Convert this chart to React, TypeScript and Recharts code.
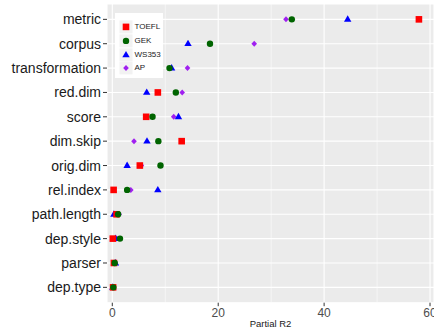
import React from 'react';
import { ScatterChart, Scatter, XAxis, YAxis, CartesianGrid, ReferenceLine, Legend } from 'recharts';

const categories = ['metric', 'corpus', 'transformation', 'red.dim', 'score', 'dim.skip', 'orig.dim', 'rel.index', 'path.length', 'dep.style', 'parser', 'dep.type'];

const toefl = [57.9, 5.0, 4.0, 8.6, 6.4, 13.1, 5.2, 0.25, 0.8, 0.1, 0.3, 0.15];
const gek = [33.9, 18.45, 10.8, 12.0, 7.6, 8.7, 9.1, 2.8, 1.1, 1.45, 0.45, 0.2];
const ws353 = [44.45, 14.3, 11.2, 6.5, 12.5, 6.55, 2.8, 8.6, 0.3, 0.6, 0.6, 0.1];
const ap = [32.8, 26.8, 14.2, 13.2, 11.6, 4.1, 5.5, 3.5, 1.3, 0.8, 0.4, 0.05];

const xTicks = [0, 20, 40, 60];
const xMinor = [10, 30, 50];
const legendNames = ['TOEFL', 'GEK', 'WS353', 'AP'];

const COLORS: Record<string, string> = {
  TOEFL: '#ff0000',
  GEK: '#006400',
  WS353: '#0000ff',
  AP: '#a020f0',
};

const toPoints = (vals: number[]) => categories.map((c, i) => ({ name: c, x: vals[i], y: i }));

const Marker = ({ kind, cx, cy }: { kind: string; cx: number; cy: number }) => {
  const color = COLORS[kind];
  if (kind === 'TOEFL') return <rect x={cx - 3.3} y={cy - 3.3} width={6.6} height={6.6} fill={color} />;
  if (kind === 'GEK') return <circle cx={cx} cy={cy} r={3.2} fill={color} />;
  if (kind === 'WS353')
    return <polygon points={`${cx},${cy - 4} ${cx + 3.7},${cy + 2.4} ${cx - 3.7},${cy + 2.4}`} fill={color} />;
  return <polygon points={`${cx},${cy - 3} ${cx + 2.8},${cy} ${cx},${cy + 3} ${cx - 2.8},${cy}`} fill={color} />;
};

const shapeFor = (kind: string) => (props: any) => <Marker kind={kind} cx={props.cx} cy={props.cy} />;

const LegendBox = () => (
  <div style={{ background: '#fff', width: 48, height: 65, paddingTop: 7, boxSizing: 'border-box' }}>
    {legendNames.map((n) => (
      <div key={n} style={{ display: 'flex', alignItems: 'center', height: 13.8 }}>
        <svg width={14} height={13.8} style={{ marginLeft: 4, display: 'block' }}>
          <rect x={0.5} y={0.4} width={13} height={13} fill="#f2f2f2" />
          <Marker kind={n} cx={7} cy={6.9} />
        </svg>
        <span style={{ fontSize: 8, color: '#1a1a1a', marginLeft: 1.5, lineHeight: '13.8px' }}>{n}</span>
      </div>
    ))}
  </div>
);

export default function App() {
  return (
    <div style={{ position: 'absolute', left: 0, top: 0, fontFamily: '"Liberation Sans", Arial, sans-serif' }}>
      <ScatterChart width={434} height={329} margin={{ top: 4, right: 0, bottom: 0, left: 0 }}>
        <CartesianGrid fill="#ebebeb" stroke="#ffffff" strokeWidth={1.1} />
        {xMinor.map((v) => (
          <ReferenceLine key={v} x={v} stroke="#ffffff" strokeWidth={0.55} />
        ))}
        <XAxis
          type="number"
          dataKey="x"
          domain={[-1, 60.75]}
          allowDataOverflow
          ticks={xTicks}
          interval={0}
          axisLine={false}
          tickLine={{ stroke: '#333333' }}
          tickSize={3.5}
          height={26.3}
          tick={{ fill: '#4d4d4d', fontSize: 12 }}
          label={{ value: 'Partial R2', position: 'insideBottom', offset: 2, fontSize: 9.5, fill: '#1a1a1a' }}
        />
        <YAxis
          type="number"
          dataKey="y"
          domain={[-0.63, 11.63]}
          reversed
          allowDataOverflow
          ticks={categories.map((_, i) => i)}
          interval={0}
          tickFormatter={(i: number) => categories[i]}
          axisLine={false}
          tickLine={{ stroke: '#333333' }}
          tickSize={4}
          width={107}
          tick={{ fill: '#1a1a1a', fontSize: 14 }}
        />
        <Scatter name="AP" data={toPoints(ap)} shape={shapeFor('AP')} isAnimationActive={false} />
        <Scatter name="WS353" data={toPoints(ws353)} shape={shapeFor('WS353')} isAnimationActive={false} />
        <Scatter name="TOEFL" data={toPoints(toefl)} shape={shapeFor('TOEFL')} isAnimationActive={false} />
        <Scatter name="GEK" data={toPoints(gek)} shape={shapeFor('GEK')} isAnimationActive={false} />
        <Legend
          layout="vertical"
          align="center"
          verticalAlign="middle"
          content={() => <LegendBox />}
          wrapperStyle={{ left: 115, top: 13, width: 48, height: 65, margin: 0 }}
        />
      </ScatterChart>
    </div>
  );
}
